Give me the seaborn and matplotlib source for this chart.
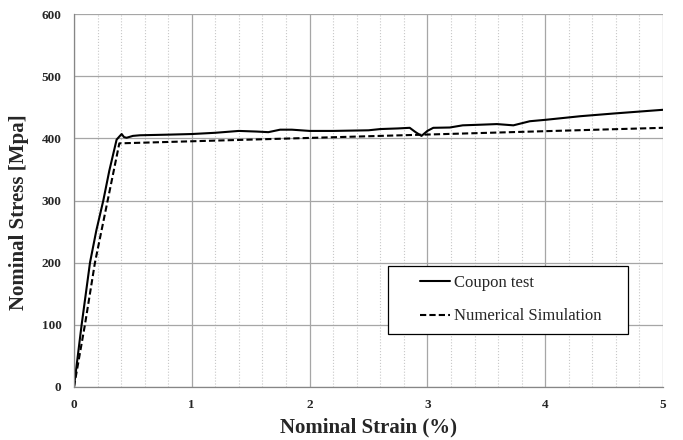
import matplotlib
matplotlib.use("Agg")
import matplotlib.pyplot as plt
import seaborn as sns
import pandas as pd
from matplotlib.ticker import MultipleLocator
from matplotlib.patches import Rectangle

# Coupon test data (strain %, stress MPa)
coupon_strain = [0.0, 0.065, 0.136, 0.19, 0.249, 0.30, 0.362, 0.39, 0.405, 0.425, 0.447,
                 0.50, 0.56, 0.8, 1.0, 1.2, 1.4, 1.55, 1.65, 1.75, 1.85, 2.0, 2.2, 2.5, 2.6,
                 2.75, 2.85, 2.9, 2.95, 3.0, 3.05, 3.19, 3.30, 3.45, 3.59, 3.73, 3.87,
                 4.01, 4.30, 4.58, 5.0]
coupon_stress = [0, 100, 200, 252, 300, 348, 398, 404, 407, 402, 401,
                 404, 405, 406, 407, 409, 412, 411, 410, 414, 414, 412, 412, 413, 415,
                 416, 417, 410, 404, 412, 417, 417.5, 421, 422, 423, 421, 427.6,
                 430, 435.7, 440, 446]

# Numerical simulation data
sim_strain = [0.0, 0.093, 0.178, 0.286, 0.385, 5.0]
sim_stress = [0, 100, 200, 300, 392, 417]

x_ticks = [0, 1, 2, 3, 4, 5]
y_ticks = [0, 100, 200, 300, 400, 500, 600]

df = pd.concat([
    pd.DataFrame({"strain": coupon_strain, "stress": coupon_stress, "series": "Coupon test"}),
    pd.DataFrame({"strain": sim_strain, "stress": sim_stress, "series": "Numerical Simulation"}),
])

sns.set_style("white")
plt.rcParams['font.family'] = ['Liberation Serif', 'DejaVu Serif']

fig = plt.figure(figsize=(6.83, 4.40), dpi=100)
ax = fig.add_axes([0.1083, 0.1205, 0.9707 - 0.1083, 0.968 - 0.1205])

sns.lineplot(data=df, x="strain", y="stress", hue="series", style="series",
             palette=["black", "black"], dashes=[(None, None), (3, 1.5)],
             sort=False, estimator=None, linewidth=1.5, ax=ax)

ax.set_xlim(0, 5)
ax.set_ylim(0, 600)
ax.set_xticks(x_ticks)
ax.set_yticks(y_ticks)
ax.xaxis.set_minor_locator(MultipleLocator(0.2))
ax.grid(which="major", color="#a6a6a6", linewidth=0.9, linestyle="-")
ax.grid(which="minor", axis="x", color="#c8c8c8", linewidth=0.8, linestyle=":")
ax.set_axisbelow(True)
for s in ["top", "right"]:
    ax.spines[s].set_visible(False)
for s in ["left", "bottom"]:
    ax.spines[s].set_color("#868686")
    ax.spines[s].set_linewidth(0.9)

ax.tick_params(axis="y", which="major", length=4, color="#868686", labelsize=9.5, pad=5)
ax.tick_params(axis="x", which="major", length=0, labelsize=9.5, pad=9)
ax.tick_params(axis="x", which="minor", length=0)
for lab in ax.get_xticklabels() + ax.get_yticklabels():
    lab.set_fontweight("bold")

ax.set_xlabel("Nominal Strain (%)", fontsize=15, fontweight="bold", labelpad=4)
ax.set_ylabel("Nominal Stress [Mpa]", fontsize=15, fontweight="bold")
ax.yaxis.set_label_coords(-0.077, 0.47)

# Legend frame drawn as a rectangle, legend entries placed inside
ax.add_patch(Rectangle((0.533, 0.142), 0.4075, 0.182, transform=ax.transAxes,
                       facecolor="white", edgecolor="black", linewidth=0.9,
                       zorder=4.5, clip_on=False))
leg = ax.legend(title=None, loc="center left", bbox_to_anchor=(0.5874, 0.234),
                fontsize=12, frameon=False, handlelength=1.8, labelspacing=1.04,
                borderpad=0, borderaxespad=0, handletextpad=0.25)
leg.set_zorder(5)

fig.savefig("out.png", dpi=100)
